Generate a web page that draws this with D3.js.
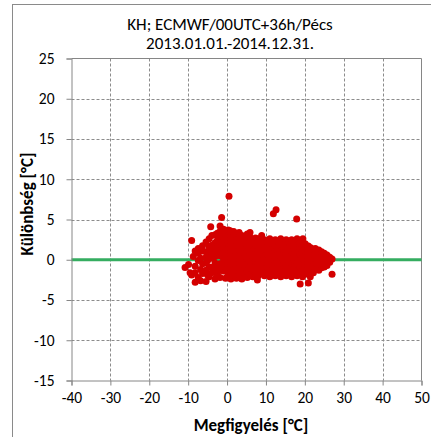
<!DOCTYPE html>
<html>
<head>
<meta charset="utf-8">
<script src="https://cdn.jsdelivr.net/npm/d3@7"></script>
<style>
  html, body { margin: 0; padding: 0; background: #fff; }
  svg { display: block; }
  text { font-family: Carlito, Calibri, Lato, "Open Sans", sans-serif; fill: #000; }
</style>
</head>
<body>
<svg id="chart" width="431" height="437"></svg>
<script>
// Chart text
const titleLines = ["KH; ECMWF/00UTC+36h/Pécs", "2013.01.01.-2014.12.31."];
const xTitle = "Megfigyelés [°C]";
const yTitle = "Különbség [°C]";

// Axis ticks
const xTicks = [-40, -30, -20, -10, 0, 10, 20, 30, 40, 50];
const yTicks = [-15, -10, -5, 0, 5, 10, 15, 20, 25];

// Observed temperature (°C) with the forecast-minus-observation differences at that value
const scatterColumns = [
  [-10.8, [-0.95]],
  [-9.9, [-0.6]],
  [-9.5, [-1.6]],
  [-9.1, [2.4, -1.9]],
  [-8.7, [0.4]],
  [-8.2, [-2.8, 1.1, -0.8, -1.6]],
  [-7.4, [1.4, -0.1, -2.2, 0.8]],
  [-6.8, [-1.2, 0.2, -2.6]],
  [-6.3, [1.75, 1.1, -0.5, -1.7]],
  [-5.4, [-2.7, -1.3, 0.3, 1.0, 2.2, -0.4]],
  [-5.0, [-0.1, -1.9]],
  [-4.6, [-2.1, -0.9, 0.5, 1.6, 2.6, 1.1]],
  [-4.2, [4.1]],
  [-3.9, [-0.95, -1.6, 0.2, 0.9, 1.8, 3.0, 0.6]],
  [-3.1, [-2.4, -1.2, -0.4, 0.4, 1.3, 2.1, 3.1, 1.7]],
  [-2.5, [-1.7, -0.8, 0.8, 1.6, 2.4, 3.3, -2.1]],
  [-1.8, [4.2, -2.2, -1.3, -0.5, 0.5, 1.2, 2.0, 2.8, 3.5]],
  [-1.4, [5.25]],
  [-0.9, [-1.4, -0.9, 0.0, 0.9, 1.6, 2.5, 3.2, 3.8]],
  [-0.4, [-2.3, -1.4, -0.6, 0.3, 1.1, 1.9, 2.7, 3.4]],
  [0.3, [-1.9, -1.0, -0.2, 0.7, 1.4, 2.3, 3.0, 3.7]],
  [0.5, [7.9]],
  [0.8, [3.6]],
  [1.0, [-2.4, -1.5, -0.7, 0.2, 1.0, 1.8, 2.6, 3.3]],
  [1.7, [-2.0, -1.2, -0.3, 0.5, 1.3, 2.1, 2.9, 3.5]],
  [2.4, [-2.3, -1.6, -0.8, 0.0, 0.8, 1.6, 2.4, 3.1]],
  [3.1, [-1.9, -1.1, -0.4, 0.4, 1.2, 2.0, 2.7, 3.4]],
  [3.8, [-2.4, -1.5, -0.7, 0.1, 0.9, 1.7, 2.5, 3.0]],
  [4.5, [-2.0, -1.2, -0.3, 0.5, 1.3, 2.2, 2.9]],
  [5.2, [-2.2, -1.4, -0.6, 0.2, 1.0, 1.8, 2.6, 3.2]],
  [5.9, [3.4, -1.8, -1.0, -0.2, 0.6, 1.4, 2.2, 2.8]],
  [6.6, [-2.1, -1.3, -0.5, 0.3, 1.1, 1.9, 2.5]],
  [7.3, [-1.7, -0.9, -0.1, 0.7, 1.5, 2.2, 2.7]],
  [7.8, [-2.5]],
  [8.0, [-2.0, -1.2, -0.4, 0.4, 1.2, 1.9, 2.6]],
  [8.9, [3.0, -1.6, -0.8, 0.0, 0.8, 1.6, 2.3]],
  [9.6, [-2.0, -1.3, -0.5, 0.3, 1.1, 1.9, 2.5]],
  [10.3, [-1.7, -0.9, -0.1, 0.7, 1.5, 2.2]],
  [11.0, [-2.1, -1.3, -0.5, 0.3, 1.1, 1.9, 2.6]],
  [11.7, [-1.8, -1.0, -0.2, 0.6, 1.4, 2.2]],
  [11.9, [5.7]],
  [12.4, [-2.0, -1.3, -0.5, 0.3, 1.0, 1.8, 2.5]],
  [12.6, [6.2]],
  [13.1, [-1.7, -0.9, -0.1, 0.7, 1.5, 2.3]],
  [13.8, [-2.1, -1.3, -0.5, 0.3, 1.1, 1.9, 2.6]],
  [14.5, [-1.8, -1.0, -0.2, 0.6, 1.4, 2.2]],
  [15.2, [-2.0, -1.3, -0.5, 0.3, 1.1, 1.9, 2.5]],
  [15.9, [-1.7, -0.9, -0.1, 0.7, 1.5, 2.3]],
  [16.6, [-2.1, -1.3, -0.5, 0.3, 1.0, 1.8, 2.5]],
  [17.3, [-1.8, -1.0, -0.2, 0.6, 1.4, 2.2]],
  [17.9, [5.05]],
  [18.0, [-2.0, -1.3, -0.5, 0.3, 1.1, 1.9, 2.6]],
  [18.7, [-1.7, -0.9, -0.1, 0.7, 1.5, 2.1]],
  [18.8, [-3.0]],
  [19.5, [2.6]],
  [19.4, [-2.1, -1.3, -0.5, 0.3, 1.1, 1.8]],
  [20.1, [-1.8, -1.0, -0.2, 0.6, 1.4, 2.0]],
  [20.8, [-1.6, -0.8, 0.0, 0.8, 1.3]],
  [20.9, [-2.9, 1.7]],
  [21.4, [-2.1]],
  [21.5, [-1.3, -0.5, 0.3, 1.0, 1.5]],
  [22.2, [-1.6, -0.9, -0.1, 0.6, 1.2]],
  [22.7, [1.4]],
  [22.9, [-1.2, -0.4, 0.4, 1.0]],
  [23.6, [-1.3, -0.7, 0.1, 0.8, 1.2]],
  [24.3, [-1.0, -0.3, 0.4, 1.0]],
  [25.0, [-0.9, -0.5, 0.2, 0.8]],
  [25.7, [-0.7, 0.0, 0.6]],
  [26.4, [-0.3, 0.3]],
  [27.0, [-1.8, 0.1]]
];

const points = scatterColumns.flatMap(([obs, diffs]) => diffs.map(d => ({ obs, diff: d })));

const svg = d3.select("#chart");
const plot = { left: 71.5, right: 421.5, top: 58.5, bottom: 380.5 };

const x = d3.scaleLinear().domain([-40, 50]).range([plot.left, plot.right]);
const y = d3.scaleLinear().domain([-15, 25]).range([plot.bottom, plot.top]);

const gridColor = "#8c8c8c";
const axisColor = "#868686";
const fontStack = "Carlito, Calibri, Lato, 'Open Sans', sans-serif";

// Outer chart frame
svg.append("rect")
  .attr("x", 12.5).attr("y", 4.5)
  .attr("width", 440).attr("height", 450)
  .attr("fill", "#fff")
  .attr("stroke", "#8a8a8a")
  .attr("stroke-width", 1);

// Dashed gridlines
svg.append("g").selectAll("line")
  .data(xTicks.filter(t => t > -40 && t < 50))
  .join("line")
  .attr("x1", d => Math.round(x(d)) + 0.5).attr("x2", d => Math.round(x(d)) + 0.5)
  .attr("y1", plot.top).attr("y2", plot.bottom)
  .attr("stroke", gridColor).attr("stroke-width", 1)
  .attr("stroke-dasharray", "3,2");

svg.append("g").selectAll("line")
  .data(yTicks.filter(t => t > -15 && t < 25))
  .join("line")
  .attr("x1", plot.left).attr("x2", plot.right)
  .attr("y1", d => Math.round(y(d)) + 0.5).attr("y2", d => Math.round(y(d)) + 0.5)
  .attr("stroke", gridColor).attr("stroke-width", 1)
  .attr("stroke-dasharray", "3,2");

// Plot area border (top and right)
svg.append("path")
  .attr("d", `M${plot.left},${plot.top}H${plot.right}V${plot.bottom}`)
  .attr("fill", "none").attr("stroke", axisColor).attr("stroke-width", 1);

// Zero-difference reference line
svg.append("line")
  .attr("x1", plot.left).attr("x2", plot.right)
  .attr("y1", y(0)).attr("y2", y(0))
  .attr("stroke", "#35ad60").attr("stroke-width", 3);

// Axes (plain hyphen for negative labels)
const xAxis = d3.axisBottom(x).tickValues(xTicks).tickSize(5).tickPadding(6).tickFormat(d => String(d));
const yAxis = d3.axisLeft(y).tickValues(yTicks).tickSize(5).tickPadding(12).tickFormat(d => String(d));

const gx = svg.append("g").attr("transform", `translate(0,${plot.bottom})`).call(xAxis);
const gy = svg.append("g").attr("transform", `translate(${plot.left},0)`).call(yAxis);

[gx, gy].forEach(g => {
  g.select(".domain").attr("stroke", axisColor);
  g.selectAll(".tick line").attr("stroke", axisColor);
  g.selectAll(".tick text")
    .attr("font-family", fontStack)
    .attr("font-size", 15.5).attr("fill", "#000");
});

// Scatter points
svg.append("g").selectAll("circle")
  .data(points)
  .join("circle")
  .attr("cx", d => x(d.obs))
  .attr("cy", d => y(d.diff))
  .attr("r", 3.5)
  .attr("fill", "#d40000");

// Title
svg.append("text")
  .attr("x", 230).attr("y", 30)
  .attr("text-anchor", "middle").attr("font-size", 17)
  .attr("font-family", fontStack)
  .selectAll("tspan")
  .data(titleLines)
  .join("tspan")
  .attr("x", 230)
  .attr("dy", (d, i) => i === 0 ? 0 : 19)
  .text(d => d);

// Axis titles
svg.append("text")
  .attr("x", 251).attr("y", 431)
  .attr("text-anchor", "middle").attr("font-size", 17).attr("font-weight", "bold")
  .attr("font-family", fontStack)
  .text(xTitle);

svg.append("text")
  .attr("transform", "translate(33,204) rotate(-90)")
  .attr("text-anchor", "middle").attr("font-size", 17).attr("font-weight", "bold")
  .attr("font-family", fontStack)
  .text(yTitle);
</script>
</body>
</html>
